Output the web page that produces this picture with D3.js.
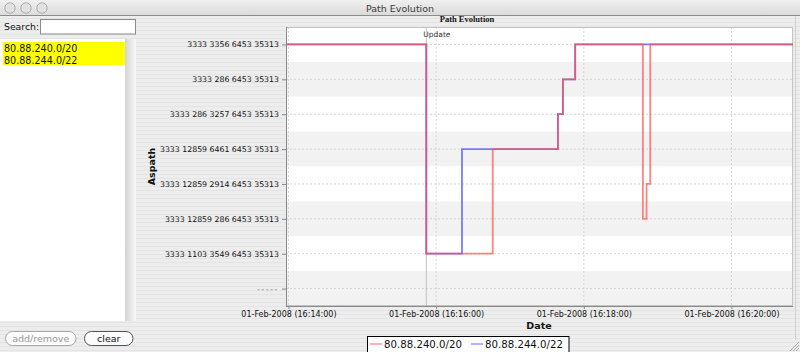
<!DOCTYPE html>
<html><head><meta charset="utf-8">
<script src="https://cdn.jsdelivr.net/npm/d3@7"></script>
<style>
html,body{margin:0;padding:0;background:#ececec;}
svg{display:block;font-family:"DejaVu Sans",sans-serif;}
</style></head>
<body><svg id="c" width="800" height="352"></svg>
<script>
// ---- data ----
const aspaths = [
  "3333 3356 6453 35313",
  "3333 286 6453 35313",
  "3333 286 3257 6453 35313",
  "3333 12859 6461 6453 35313",
  "3333 12859 2914 6453 35313",
  "3333 12859 286 6453 35313",
  "3333 1103 3549 6453 35313",
  "-----"
];
const seriesNames = ["80.88.240.0/20", "80.88.244.0/22"];
const seriesColors = ["#ff5050", "#6b6bff"];
const redTimes  = ["16:13:58","16:15:52","16:16:46","16:17:39","16:17:43","16:17:53","16:18:48","16:18:51","16:18:54","16:20:50"];
const redPaths  = [aspaths[0],aspaths[6],aspaths[3],aspaths[2],aspaths[1],aspaths[0],aspaths[5],aspaths[4],aspaths[0],aspaths[0]];
const blueTimes = ["16:13:58","16:15:52","16:16:21","16:17:39","16:17:43","16:17:53","16:20:50"];
const bluePaths = [aspaths[0],aspaths[6],aspaths[3],aspaths[2],aspaths[1],aspaths[0],aspaths[0]];
const xDomain = ["16:13:58","16:20:50"];
const xTicks = ["16:14:00","16:16:00","16:18:00","16:20:00"];
const updateTime = "16:15:52";
const day = "2008-02-01";

// ---- helpers ----
const parseT = d3.timeParse("%Y-%m-%d %H:%M:%S");
const T = s => parseT(day + " " + s);
const svg = d3.select("#c");

// window background with pinstripes
const defs = svg.append("defs");
const pat = defs.append("pattern").attr("id","stripe").attr("width",4).attr("height",4).attr("patternUnits","userSpaceOnUse");
pat.append("rect").attr("width",4).attr("height",4).attr("fill","#ededed");
pat.append("rect").attr("y",2).attr("width",4).attr("height",1).attr("fill","#e4e4e4");
svg.append("rect").attr("width",800).attr("height",352).attr("fill","url(#stripe)");

// title bar
const tg = defs.append("linearGradient").attr("id","tbar").attr("x1",0).attr("y1",0).attr("x2",0).attr("y2",1);
tg.append("stop").attr("offset","0%").attr("stop-color","#f0f0f0");
tg.append("stop").attr("offset","100%").attr("stop-color","#dadada");
svg.append("rect").attr("width",800).attr("height",15.5).attr("fill","url(#tbar)");
svg.append("line").attr("x1",0).attr("x2",800).attr("y1",15.5).attr("y2",15.5).attr("stroke","#8c8c8c");
[10,26,42].forEach(cx=>{
  svg.append("circle").attr("cx",cx).attr("cy",8).attr("r",5.2).attr("fill","#e2e2e2").attr("stroke","#9a9a9a").attr("stroke-width",0.8);
});
svg.append("text").attr("x",400).attr("y",11.5).attr("text-anchor","middle").attr("font-size",9.5).attr("fill","#3a3a3a").text("Path Evolution");

// left panel
svg.append("text").attr("x",4).attr("y",30).attr("font-size",9.3).attr("fill","#111").text("Search:");
svg.append("rect").attr("x",40.5).attr("y",19.5).attr("width",95).attr("height",14.5).attr("fill","#fff").attr("stroke","#8a8a8a");
svg.append("rect").attr("x",0).attr("y",39).attr("width",136).attr("height",282).attr("fill","#fff");
const lg = defs.append("linearGradient").attr("id","sh").attr("x1",0).attr("y1",0).attr("x2",1).attr("y2",0);
lg.append("stop").attr("offset","0%").attr("stop-color","#d4d4d4");
lg.append("stop").attr("offset","100%").attr("stop-color","#f8f8f8");
svg.append("rect").attr("x",125).attr("y",39).attr("width",11).attr("height",282).attr("fill","url(#sh)");
svg.append("rect").attr("x",3).attr("y",42).attr("width",122).attr("height",23).attr("fill","#ffff00");
seriesNames.forEach((n,i)=>{
  svg.append("text").attr("x",4).attr("y",52 + i*11.5).attr("font-size",9.6).attr("fill","#111").text(n);
});
// buttons
function button(x,w,label,color){
  svg.append("rect").attr("x",x).attr("y",331.5).attr("width",w).attr("height",14).attr("rx",7)
    .attr("fill","#fbfbfb").attr("stroke",color==="#999"?"#a8a8a8":"#555");
  svg.append("text").attr("x",x+w/2).attr("y",342).attr("text-anchor","middle").attr("font-size",9.5).attr("fill",color).text(label);
}
button(5.5,70.5,"add/remove","#999");
button(84.5,48.5,"clear","#111");

// ---- chart ----
const L=286, R=793, Tp=27, B=306;
const x = d3.scaleTime().domain(xDomain.map(T)).range([L,R]);
const y = d3.scalePoint().domain(aspaths).range([Tp,B]).padding(0.5);
const step = y.step();

svg.append("text").attr("x",467).attr("y",22).attr("text-anchor","middle")
  .attr("font-family","'Liberation Serif',serif").attr("font-weight","bold").attr("font-size",8.5).attr("fill","#111").text("Path Evolution");

const plot = svg.append("g");
plot.append("rect").attr("x",L).attr("y",Tp).attr("width",R-L).attr("height",B-Tp).attr("fill","#fff");
plot.selectAll("rect.band").data(aspaths).join("rect").attr("class","band")
  .attr("x",L).attr("width",R-L)
  .attr("y",d=>Math.max(Tp,y(d)-step/2)).attr("height",d=>Math.min(B,y(d)+step/2)-Math.max(Tp,y(d)-step/2))
  .attr("fill",(d,i)=>i%2?"#f2f2f2":"#ffffff");
// gridlines
plot.selectAll("line.hg").data(aspaths).join("line").attr("class","hg")
  .attr("x1",L).attr("x2",R).attr("y1",d=>y(d)).attr("y2",d=>y(d))
  .attr("stroke","#d4d4d4").attr("stroke-dasharray","2,2");
plot.selectAll("line.vg").data(xTicks.map(T)).join("line").attr("class","vg")
  .attr("x1",d=>x(d)).attr("x2",d=>x(d)).attr("y1",Tp).attr("y2",B)
  .attr("stroke","#d4d4d4").attr("stroke-dasharray","2,2");
// border
plot.append("rect").attr("x",L+0.5).attr("y",Tp+0.5).attr("width",R-L-1).attr("height",B-Tp-1)
  .attr("fill","none").attr("stroke","#c4c4c4");

// update marker
const ux = x(T(updateTime));
plot.append("line").attr("x1",ux).attr("x2",ux).attr("y1",Tp).attr("y2",B).attr("stroke","#c0c0c0").attr("stroke-width",1);
plot.append("text").attr("x",ux-3).attr("y",37).attr("font-size",7.5).attr("fill","#333").text("Update");

// series lines
const line = d3.line().x(d=>x(d.t)).y(d=>y(d.p)).curve(d3.curveStepAfter);
const blueData = blueTimes.map((t,i)=>({t:T(t),p:bluePaths[i]}));
const redData = redTimes.map((t,i)=>({t:T(t),p:redPaths[i]}));
plot.append("path").datum(blueData).attr("d",line).attr("fill","none")
  .attr("stroke",seriesColors[1]).attr("stroke-width",1.8).attr("opacity",0.9);
plot.append("path").datum(redData).attr("d",line).attr("fill","none")
  .attr("stroke",seriesColors[0]).attr("stroke-width",1.8).attr("opacity",0.7);

// axes
const yAxis = d3.axisLeft(y).tickSize(4).tickPadding(3);
const gy = svg.append("g").attr("transform",`translate(${L},0)`).call(yAxis);
gy.select(".domain").attr("stroke","#888").attr("d",`M0.5,${Tp}V${B}`);
gy.selectAll(".tick line").attr("stroke","#888");
gy.selectAll(".tick text").attr("font-size",7.8).attr("font-family","'DejaVu Sans',sans-serif")
  .attr("fill",d=>d==="-----"?"#777":"#111")
  .attr("letter-spacing",d=>d==="-----"?"1.6px":null);

const xAxis = d3.axisBottom(x).tickValues(xTicks.map(T)).tickSize(3).tickPadding(2)
  .tickFormat(d3.timeFormat("%d-%b-%Y (%H:%M:%S)"));
const gx = svg.append("g").attr("transform",`translate(0,${B})`).call(xAxis);
gx.select(".domain").attr("stroke","#888").attr("d",`M${L},0.5H${R}`);
gx.selectAll(".tick line").attr("stroke","#888");
gx.selectAll(".tick text").attr("font-size",8).attr("font-family","'DejaVu Sans',sans-serif").attr("fill","#111");

svg.append("text").attr("transform","translate(155,166.5) rotate(-90)").attr("text-anchor","middle")
  .attr("font-size",9.5).attr("font-weight","bold").attr("fill","#111").text("Aspath");
svg.append("text").attr("x",539).attr("y",329).attr("text-anchor","middle")
  .attr("font-size",9.5).attr("font-weight","bold").attr("fill","#111").text("Date");

// legend
const leg = svg.append("g");
leg.append("rect").attr("x",367.5).attr("y",336.5).attr("width",201.5).attr("height",16).attr("fill","#fff").attr("stroke","#000");
const legX = [370, 471];
seriesNames.forEach((n,i)=>{
  leg.append("line").attr("x1",legX[i]).attr("x2",legX[i]+12).attr("y1",344).attr("y2",344)
    .attr("stroke",i===0?"#ff8080":"#8080ff").attr("stroke-width",1.2);
  leg.append("text").attr("x",legX[i]+14).attr("y",348).attr("font-size",10.2).attr("fill","#111").text(n);
});

// resize grip
[0,3,6].forEach(o=>{
  svg.append("line").attr("x1",790+o).attr("y1",351).attr("x2",799).attr("y2",342+o).attr("stroke","#999").attr("stroke-width",0.8);
});
svg.append("line").attr("x1",795.5).attr("x2",795.5).attr("y1",16).attr("y2",340).attr("stroke","#d0d0d0");
</script></body></html>
